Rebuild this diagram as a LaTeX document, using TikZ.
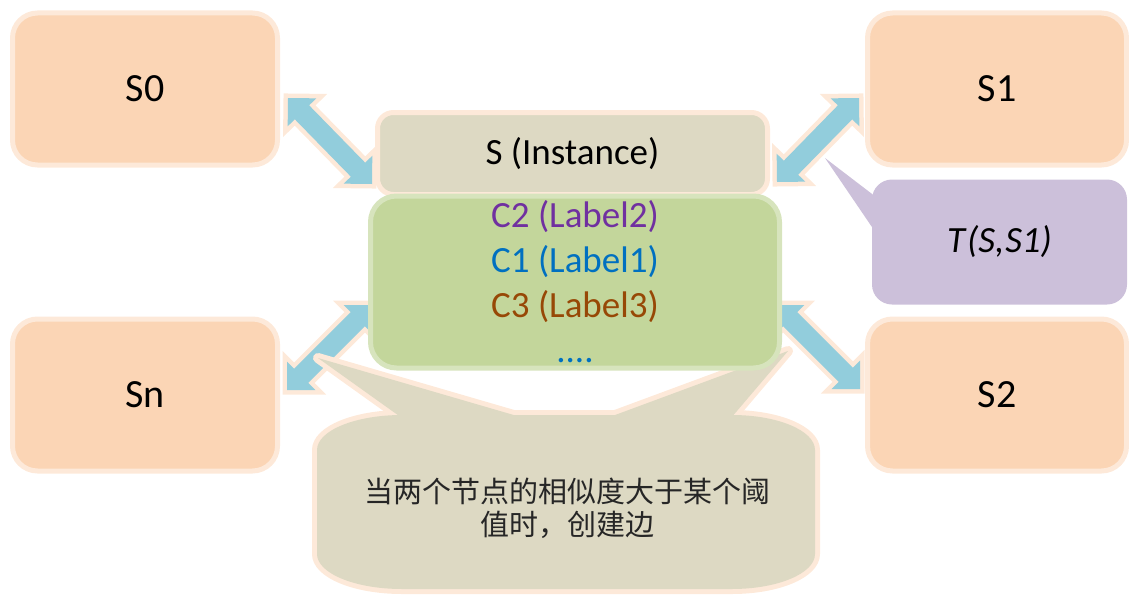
\documentclass[tikz,border=0pt]{standalone}
\usepackage{fontspec}
\setmainfont{Carlito}
\newfontfamily\cjkfont{Noto Sans CJK SC}
\usetikzlibrary{calc}
\definecolor{peachfill}{HTML}{FBD5B5}
\definecolor{peachline}{HTML}{FDE9D9}
\definecolor{beige}{HTML}{DDD9C3}
\definecolor{greenfill}{HTML}{C3D69B}
\definecolor{greenline}{HTML}{D7E4BD}
\definecolor{lilac}{HTML}{CCC0DA}
\definecolor{arrowblue}{HTML}{92CDDC}
\definecolor{cpurple}{HTML}{7030A0}
\definecolor{cblue}{HTML}{0070C0}
\definecolor{cbrown}{HTML}{974806}
\newcommand{\blockarrow}[2]{%
  \coordinate (#1-h) at ($(#1)!20pt!(#2)$);
  \coordinate (#2-h) at ($(#2)!20pt!(#1)$);
  \fill[arrowshape] (#1) -- ($(#1-h)!20pt!90:(#2)$) -- ($(#1-h)!10pt!90:(#2)$)
    -- ($(#2-h)!10pt!-90:(#1)$) -- ($(#2-h)!20pt!-90:(#1)$) -- (#2)
    -- ($(#2-h)!20pt!90:(#1)$) -- ($(#2-h)!10pt!90:(#1)$)
    -- ($(#1-h)!10pt!-90:(#2)$) -- ($(#1-h)!20pt!-90:(#2)$) -- cycle;}
\tikzset{
  arrowshape/.style={fill=arrowblue, preaction={draw=peachline, line width=9pt, fill=none, line join=miter}},
  sbox/.style={draw=peachline, fill=peachfill, line width=5pt, rounded corners=25pt,
    minimum width=265pt, minimum height=152pt, inner sep=0pt, font=\fontsize{40}{48}\selectfont},
  instbox/.style={draw=peachline, fill=beige, line width=5pt, rounded corners=16pt,
    minimum width=390pt, minimum height=82pt, inner sep=0pt, font=\fontsize{37}{44}\selectfont},
  labbox/.style={draw=greenline, fill=greenfill, line width=5pt, rounded corners=26pt,
    minimum width=409pt, minimum height=172pt, inner sep=0pt, align=center,
    font=\fontsize{37}{45}\selectfont},
  tbox/.style={fill=lilac, rounded corners=20pt, minimum width=255pt, minimum height=125pt,
    inner sep=0pt, font=\fontsize{37}{44}\selectfont\itshape},
  calloutline/.style={draw=peachline, line width=10pt, line join=round},
  calloutfill/.style={fill=beige},
  cjktext/.style={align=center, font=\cjkfont\fontsize{29}{33}\selectfont, text=black!85}
}
\begin{document}
\begin{tikzpicture}[x=1pt,y=-1pt]
\useasboundingbox (0,0) rectangle (1129,594);
% arrow end points
\coordinate (a0) at (288,98);  \coordinate (b0) at (372,184);
\coordinate (a1) at (859,98);  \coordinate (b1) at (777,182);
\coordinate (an) at (287,390); \coordinate (bn) at (372,305);
\coordinate (a2) at (860,389); \coordinate (b2) at (776,305);
\blockarrow{a0}{b0}
\blockarrow{a1}{b1}
\blockarrow{an}{bn}
\blockarrow{a2}{b2}
% bottom callout
\def\cbody{(317,450) arc[start angle=180, end angle=270, x radius=85, y radius=35]
  -- (732,415) arc[start angle=270, end angle=360, x radius=83, y radius=35]
  -- (815,554) arc[start angle=0, end angle=90, x radius=83, y radius=35]
  -- (402,589) arc[start angle=90, end angle=180, x radius=85, y radius=35] -- cycle}
\draw[calloutline] \cbody;
\draw[calloutline] (318,358) -- (402,418) -- (524,418) -- cycle;
\draw[calloutline] (788,351) -- (607,418) -- (731,418) -- cycle;
\fill[calloutfill] \cbody;
\fill[calloutfill] (318,358) -- (402,418) -- (524,418) -- cycle;
\fill[calloutfill] (788,351) -- (607,418) -- (731,418) -- cycle;
\node[cjktext] (note) at (567,508) {当两个节点的相似度大于某个阈\\值时，创建边};
% boxes
\node[sbox] (s0) at (145,89) {S0};
\node[sbox] (sn) at (145,395) {Sn};
\node[sbox, minimum width=259pt] (s1) at (997,89) {S1};
\node[sbox, minimum width=259pt] (s2) at (997,395) {S2};
\node[instbox] (inst) at (572.5,153.5) {S (Instance)};
\node[labbox] (labels) at (575,282) {\textcolor{cpurple}{C2 (Label2)}\\\textcolor{cblue}{C1 (Label1)}\\\textcolor{cbrown}{C3 (Label3)}\\\textcolor{cblue}{....}};
% T callout
\fill[lilac] (876,197) -- (825,158) -- (876,233) -- cycle;
\node[tbox] (tcall) at (999.5,242) {T\kern2pt(S,\kern1pt S1)};
\end{tikzpicture}
\end{document}
